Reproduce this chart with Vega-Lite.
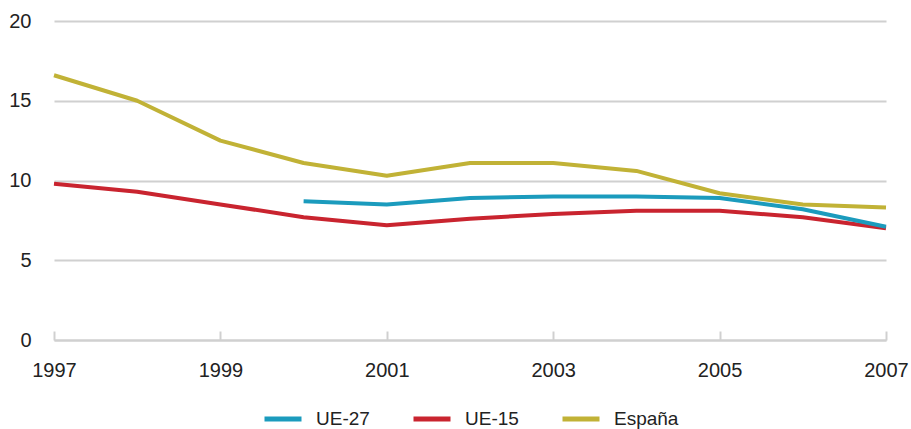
{
  "$schema": "https://vega.github.io/schema/vega-lite/v6.json",
  "width": 832,
  "height": 319,
  "autosize": "none",
  "padding": {"left": 54, "top": 21, "right": 25, "bottom": 89},
  "background": "white",
  "config": {
    "view": {"stroke": null},
    "font": "Liberation Sans"
  },
  "data": {
    "values": [
      {"year": 1997, "serie": "España", "valor": 16.6},
      {"year": 1998, "serie": "España", "valor": 15.0},
      {"year": 1999, "serie": "España", "valor": 12.5},
      {"year": 2000, "serie": "España", "valor": 11.1},
      {"year": 2001, "serie": "España", "valor": 10.3},
      {"year": 2002, "serie": "España", "valor": 11.1},
      {"year": 2003, "serie": "España", "valor": 11.1},
      {"year": 2004, "serie": "España", "valor": 10.6},
      {"year": 2005, "serie": "España", "valor": 9.2},
      {"year": 2006, "serie": "España", "valor": 8.5},
      {"year": 2007, "serie": "España", "valor": 8.3},
      {"year": 1997, "serie": "UE-15", "valor": 9.8},
      {"year": 1998, "serie": "UE-15", "valor": 9.3},
      {"year": 1999, "serie": "UE-15", "valor": 8.5},
      {"year": 2000, "serie": "UE-15", "valor": 7.7},
      {"year": 2001, "serie": "UE-15", "valor": 7.2},
      {"year": 2002, "serie": "UE-15", "valor": 7.6},
      {"year": 2003, "serie": "UE-15", "valor": 7.9},
      {"year": 2004, "serie": "UE-15", "valor": 8.1},
      {"year": 2005, "serie": "UE-15", "valor": 8.1},
      {"year": 2006, "serie": "UE-15", "valor": 7.7},
      {"year": 2007, "serie": "UE-15", "valor": 7.0},
      {"year": 2000, "serie": "UE-27", "valor": 8.7},
      {"year": 2001, "serie": "UE-27", "valor": 8.5},
      {"year": 2002, "serie": "UE-27", "valor": 8.9},
      {"year": 2003, "serie": "UE-27", "valor": 9.0},
      {"year": 2004, "serie": "UE-27", "valor": 9.0},
      {"year": 2005, "serie": "UE-27", "valor": 8.9},
      {"year": 2006, "serie": "UE-27", "valor": 8.2},
      {"year": 2007, "serie": "UE-27", "valor": 7.1}
    ]
  },
  "mark": {"type": "line", "strokeWidth": 4, "strokeJoin": "round"},
  "encoding": {
    "x": {
      "field": "year",
      "type": "quantitative",
      "scale": {"domain": [1997, 2007], "nice": false, "zero": false},
      "axis": {
        "title": null,
        "values": [1997, 1999, 2001, 2003, 2005, 2007],
        "format": "d",
        "grid": false,
        "domainColor": "#d0d0d0",
        "domainWidth": 2,
        "tickColor": "#d0d0d0",
        "tickWidth": 2,
        "tickSize": -9,
        "labelPadding": 29,
        "labelFlush": false,
        "labelFont": "Liberation Sans",
        "labelFontSize": 20,
        "labelColor": "#222222"
      }
    },
    "y": {
      "field": "valor",
      "type": "quantitative",
      "scale": {"domain": [0, 20], "nice": false},
      "axis": {
        "title": null,
        "values": [0, 5, 10, 15, 20],
        "domain": false,
        "ticks": false,
        "gridColor": "#d0d0d0",
        "gridWidth": 2,
        "labelPadding": 23,
        "labelFont": "Liberation Sans",
        "labelFontSize": 20,
        "labelColor": "#222222"
      }
    },
    "color": {
      "field": "serie",
      "type": "nominal",
      "scale": {"domain": ["UE-27", "UE-15", "España"], "range": ["#1b9bbd", "#c9242f", "#c1b236"]},
      "legend": {
        "title": null,
        "orient": "none",
        "direction": "horizontal",
        "legendX": 208,
        "legendY": 377,
        "padding": 0,
        "symbolType": "stroke",
        "symbolSize": 1369,
        "symbolStrokeWidth": 5,
        "labelFont": "Liberation Sans",
        "labelFontSize": 19,
        "labelColor": "#222222",
        "labelOffset": 12,
        "columnPadding": 22,
        "gridAlign": "all"
      }
    }
  }
}
